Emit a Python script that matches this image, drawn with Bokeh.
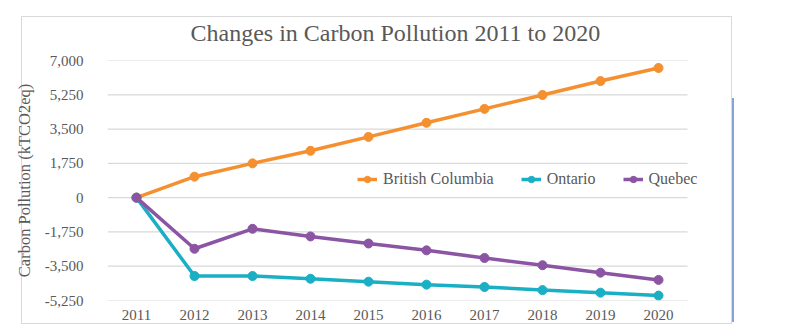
from bokeh.plotting import figure
from bokeh.models import (ColumnDataSource, Range1d, FixedTicker, NumeralTickFormatter,
                          Legend, LegendItem)
from bokeh.embed import file_html
from bokeh.resources import INLINE

years = [2011, 2012, 2013, 2014, 2015, 2016, 2017, 2018, 2019, 2020]
year_labels = ["2011", "2012", "2013", "2014", "2015", "2016", "2017", "2018", "2019", "2020"]
british_columbia = [0, 1070, 1750, 2390, 3100, 3820, 4530, 5240, 5950, 6620]
ontario = [0, -4000, -4000, -4140, -4290, -4440, -4560, -4720, -4850, -5000]
quebec = [0, -2610, -1590, -1980, -2340, -2690, -3080, -3450, -3830, -4200]
y_ticks = [-5250, -3500, -1750, 0, 1750, 3500, 5250, 7000]

series_names = ["British Columbia", "Ontario", "Quebec"]
colors = ["#F4902F", "#1AAFC4", "#8B55A4"]

FONT = "Liberation Serif"
GRAY = "#595959"
GRID = "#D9D9D9"

x_start = years[0] - 0.5
x_end = years[-1] + 0.5

p = figure(width=790, height=336, x_range=Range1d(x_start, x_end + 0.31),
           y_range=Range1d(-5250, 7000),
           output_backend="svg", toolbar_location=None,
           min_border_left=107, min_border_right=85, min_border_top=60, min_border_bottom=36)

p.border_fill_alpha = 0
p.background_fill_alpha = 0
g = "linear-gradient(%s,%s)" % (GRID, GRID)
b = "linear-gradient(#86A3D6,#86A3D6)"
p.styles = {
    "background-color": "white",
    "background-image": ", ".join([g, g, g, g, b]),
    "background-size": "711px 1px, 711px 1px, 1px 308px, 1px 308px, 2px 224px",
    "background-position": "21px 16px, 21px 323px, 21px 16px, 731px 16px, 732px 98px",
    "background-repeat": "no-repeat",
}

p.title.text = "Changes in Carbon Pollution 2011 to 2020"
p.title.align = "left"
p.title.offset = 83
p.title.text_font = FONT
p.title.text_font_size = "24px"
p.title.text_font_style = "normal"
p.title.text_color = GRAY
p.title.standoff = 29

p.outline_line_color = None
p.xgrid.grid_line_color = None
p.ygrid.grid_line_color = None

# horizontal gridlines spanning the category area only
p.segment(x0=[x_start] * len(y_ticks), x1=[x_end] * len(y_ticks), y0=y_ticks, y1=y_ticks,
          line_color=GRID, line_width=1.2)

p.yaxis.ticker = FixedTicker(ticks=y_ticks)
p.yaxis.formatter = NumeralTickFormatter(format="0,0")
p.yaxis.axis_line_color = None
p.yaxis.major_tick_line_color = None
p.yaxis.minor_tick_line_color = None
p.yaxis.major_label_text_font = FONT
p.yaxis.major_label_text_font_size = "15px"
p.yaxis.major_label_text_color = GRAY
p.yaxis.major_label_standoff = 18
p.yaxis.axis_label = "Carbon Pollution (kTCO2eq)"
p.yaxis.axis_label_text_font = FONT
p.yaxis.axis_label_text_font_size = "16.5px"
p.yaxis.axis_label_text_font_style = "normal"
p.yaxis.axis_label_text_color = GRAY
p.yaxis.axis_label_standoff = 8

p.xaxis.ticker = FixedTicker(ticks=years)
p.xaxis.major_label_overrides = {y: s for y, s in zip(years, year_labels)}
p.xaxis.axis_line_color = None
p.xaxis.major_tick_line_color = None
p.xaxis.minor_tick_line_color = None
p.xaxis.major_label_text_font = FONT
p.xaxis.major_label_text_font_size = "15px"
p.xaxis.major_label_text_color = GRAY
p.xaxis.major_label_standoff = 3

items = []
for name, vals, col in zip(series_names, [british_columbia, ontario, quebec], colors):
    src = ColumnDataSource(dict(x=years, y=vals))
    r1 = p.line("x", "y", source=src, line_color=col, line_width=3.5)
    r2 = p.scatter("x", "y", source=src, size=9, fill_color=col, line_color=col)
    items.append(LegendItem(label=name, renderers=[r1, r2]))

legend = Legend(items=items, orientation="horizontal", location=(250, 112),
                label_text_font=FONT, label_text_font_size="16px", label_text_color=GRAY,
                border_line_color=None, background_fill_alpha=0,
                glyph_width=20, glyph_height=16, label_standoff=6, spacing=27,
                padding=0, margin=0)
p.add_layout(legend, "center")

open("out.html", "w").write(file_html(p, INLINE))
